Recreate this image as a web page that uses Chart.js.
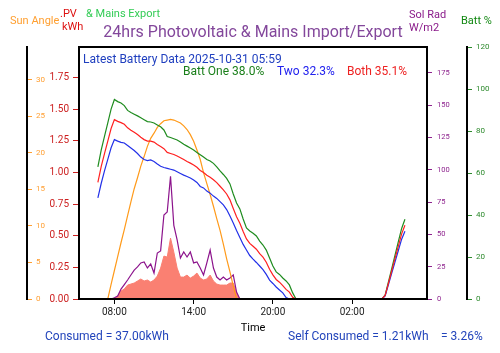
<!DOCTYPE html>
<html>
<head>
<meta charset="utf-8">
<script src="https://cdn.jsdelivr.net/npm/chart.js@4.4.1/dist/chart.umd.min.js"></script>
<style>
  body { margin: 0; background: #fff; }
  canvas { display: block; }
</style>
</head>
<body>
<canvas id="solarChart" width="500" height="353"></canvas>
<script>
// time grid: 15 min steps from 06:30 to 06:30 next day (hours since midnight)
const startHour = 6.5;
const stepMinutes = 15;
const pointCount = 97;
const hours = Array.from({ length: pointCount }, (_, i) => startHour + i * stepMinutes / 60);

const tickHours = [8, 14, 20, 26];
const tickLabels = ['08:00', '14:00', '20:00', '02:00'];

const sunAngle = [
  null, null, null, null, 0, 2.0, 3.9, 5.8, 7.7, 9.5, 11.4, 13.3,
  15.1, 16.6, 18.2, 19.5, 20.9, 22.0, 22.7, 23.5, 24.0, 24.4, 24.5, 24.6,
  24.5, 24.3, 24.1, 23.7, 23.2, 22.5, 21.6, 20.4, 19.1, 17.3, 15.8, 14.3,
  12.7, 11.0, 9.4, 7.5, 5.5, 3.7, 1.8, 0, null, null, null, null,
  null, null, null, null, null, null, null, null, null, null, null, null,
  null, null, null, null, null, null, null, null, null, null, null, null,
  null, null, null, null, null, null, null, null, null, null, null, null,
  null, null, null, null, null, null, null, null, null, null, null, null,
  null
];

const pvKwh = [
  0, 0, 0, 0, 0, 0, 0, 0.024, 0.063, 0.079, 0.110, 0.118,
  0.126, 0.142, 0.158, 0.142, 0.150, 0.134, 0.150, 0.181, 0.244, 0.339, 0.331, 0.481,
  0.370, 0.244, 0.173, 0.173, 0.189, 0.165, 0.181, 0.205, 0.165, 0.150, 0.158, 0.189,
  0.142, 0.118, 0.110, 0.110, 0.110, 0.126, 0.126, 0.047, 0, 0, 0, 0,
  0, 0, 0, 0, 0, 0, 0, 0, 0, 0, 0, 0,
  0, 0, 0, 0, 0, 0, 0, 0, 0, 0, 0, 0,
  0, 0, 0, 0, 0, 0, 0, 0, 0, 0, 0, 0,
  0, 0, 0, 0, 0, 0, 0, 0, 0, 0, 0, 0,
  0
];

const mainsExport = [
  0, 0, 0, 0, 0, 0, 0, 0, 0, 0, 0, 0,
  0, 0, 0, 0, 0, 0, 0, 0, 0, 0, 0, 0,
  0, 0, 0, 0, 0, 0, 0, 0, 0, 0, 0, 0,
  0, 0, 0, 0, 0, 0, 0, 0, 0, 0, 0, 0,
  0, 0, 0, 0, 0, 0, 0, 0, 0, 0, 0, 0,
  0, 0, 0, 0, 0, 0, 0, 0, 0, 0, 0, 0,
  0, 0, 0, 0, 0, 0, 0, 0, 0, 0, 0, 0,
  0, 0, 0, 0, 0, 0, 0, 0, 0, 0, 0, 0,
  0
];

const solRad = [
  0, 0, 0, 0, 0, 0, 1, 2.3, 7.7, 11.2, 14.7, 18.6,
  22.4, 24.8, 27.9, 28.6, 24.0, 27.1, 20.1, 35.6, 37.2, 65.0, 67.3, 95.0,
  57.0, 45.7, 31.7, 36.4, 32.5, 36.4, 27.9, 28.6, 24.0, 18.6, 27.9, 37.9,
  24.0, 17.0, 14.7, 17.0, 14.7, 16.3, 18.6, 5.4, 0, 0, 0, 0,
  0, 0, 0, 0, 0, 0, 0, 0, 0, 0, 0, 0,
  0, 0, 0, 0, 0, 0, 0, 0, 0, 0, 0, 0,
  0, 0, 0, 0, 0, 0, 0, 0, 0, 0, 0, 0,
  0, 0, 0, 0, 0, 0, 0, 0, 0, 0, 0, 0,
  0
];

const battOne = [
  null, 62.9, 70.9, 77.4, 83.9, 90.4, 95.0, 94.0, 93.3, 92.1, 89.8, 88.8,
  88.0, 87.2, 86.3, 85.4, 84.5, 84.3, 83.8, 82.9, 82.0, 80.5, 77.4, 76.9,
  76.3, 75.7, 74.8, 73.7, 72.8, 71.9, 71.0, 69.8, 68.7, 67.6, 66.4, 65.7,
  64.6, 62.9, 61.0, 59.3, 57.4, 54.8, 50.0, 45.7, 42.9, 38.1, 33.8, 32.4,
  31.3, 30.0, 27.6, 25.7, 23.3, 19.5, 15.7, 12.9, 11.7, 10.0, 8.6, 6.7,
  2.9, 0, 0, 0, 0, 0, 0, 0, 0, 0, 0, 0,
  0, 0, 0, 0, 0, 0, 0, 0, 0, 0, 0, 0,
  0, 0, 0, 0, 1.8, 8.2, 14.5, 20.9, 27.3, 33.6, 38.0, null,
  null
];

const battTwo = [
  null, 48.1, 55.0, 61.0, 66.5, 72.0, 75.9, 75.2, 74.6, 74.3, 73.1, 71.9,
  70.7, 69.3, 67.6, 66.4, 65.9, 66.2, 65.5, 64.3, 63.2, 62.6, 62.2, 61.8,
  61.4, 60.6, 59.8, 59.0, 58.3, 57.6, 56.7, 55.5, 53.6, 52.9, 51.4, 50.4,
  49.0, 47.9, 46.4, 44.8, 42.6, 39.5, 36.2, 32.6, 29.3, 26.0, 23.3, 20.7,
  19.0, 17.4, 15.7, 14.0, 11.7, 9.0, 7.4, 5.7, 4.3, 2.9, 0.7, 0,
  0, 0, 0, 0, 0, 0, 0, 0, 0, 0, 0, 0,
  0, 0, 0, 0, 0, 0, 0, 0, 0, 0, 0, 0,
  0, 0, 0, 0, 1.5, 6.9, 12.3, 17.7, 23.1, 28.5, 32.3, null,
  null
];

const battBoth = [
  null, 55.5, 63.0, 69.2, 75.2, 81.2, 85.4, 84.6, 84.0, 83.2, 81.5, 80.4,
  79.4, 78.3, 77.0, 75.9, 75.2, 75.2, 74.7, 73.6, 72.6, 71.6, 69.8, 69.3,
  68.8, 68.1, 67.3, 66.4, 65.5, 64.7, 63.8, 62.7, 61.2, 60.2, 58.9, 58.0,
  56.8, 55.4, 53.7, 52.0, 50.0, 47.2, 43.1, 39.2, 36.1, 32.1, 28.6, 26.5,
  25.1, 23.7, 21.6, 19.9, 17.5, 14.2, 11.5, 9.3, 8.0, 6.4, 4.6, 3.3,
  0.8, 0, 0, 0, 0, 0, 0, 0, 0, 0, 0, 0,
  0, 0, 0, 0, 0, 0, 0, 0, 0, 0, 0, 0,
  0, 0, 0, 0, 1.7, 7.5, 13.4, 19.3, 25.2, 31.0, 35.1, null,
  null
];

const titleText = '24hrs Photovoltaic & Mains Import/Export';
const latestText = 'Latest Battery Data 2025-10-31 05:59';
const battOneText = 'Batt One 38.0%';
const battTwoText = 'Two 32.3%';
const battBothText = 'Both 35.1%';
const consumedText = 'Consumed = 37.00kWh';
const selfText = 'Self Consumed = 1.21kWh';
const selfPctText = '= 3.26%';

const toPoints = vals => hours.map((h, i) => ({ x: h, y: vals[i] }));

function lineSet(label, vals, color, axis, order) {
  return {
    label,
    data: toPoints(vals),
    yAxisID: axis,
    borderColor: color,
    backgroundColor: color,
    borderWidth: 1.2,
    pointRadius: 0,
    fill: false,
    order
  };
}

const textPlugin = {
  id: 'chartText',
  afterDraw(chart) {
    const { ctx, chartArea: a } = chart;
    ctx.save();
    ctx.strokeStyle = '#000';
    ctx.lineWidth = 2;
    ctx.strokeRect(a.left, a.top, a.right - a.left, a.bottom - a.top);

    ctx.textBaseline = 'middle';
    const put = (text, x, y, color, size, align) => {
      ctx.font = size + 'px Roboto';
      ctx.fillStyle = color;
      ctx.textAlign = align || 'left';
      ctx.fillText(text, x, y);
    };
    put(titleText, 253, 33, '#83479b', 16, 'center');
    put('Sun Angle', 10, 21, '#ff9f30', 11);
    put('.PV', 60, 14, '#dd1111', 11);
    put('kWh', 62, 27, '#dd1111', 11);
    put('& Mains Export', 86, 14, '#33cc55', 11);
    put('Sol Rad', 409, 15, '#8a1a8a', 11);
    put('W/m2', 409, 28, '#8a1a8a', 11);
    put('Batt %', 461, 21, '#118811', 11);

    put(latestText, 83, 60, '#1f3fbf', 12);
    put(battOneText, 183, 72, '#1a7f1a', 12);
    put(battTwoText, 277, 72, '#2222ee', 12);
    put(battBothText, 347, 72, '#ee2222', 12);

    put(consumedText, 45, 337, '#2244bb', 12);
    put(selfText, 288, 337, '#2244bb', 12);
    put(selfPctText, 441, 337, '#2244bb', 12);
    ctx.restore();
  }
};

Chart.defaults.font.family = 'Roboto';

new Chart(document.getElementById('solarChart'), {
  type: 'line',
  data: {
    datasets: [
      lineSet('Batt Both', battBoth, '#ff2020', 'yBatt', 0),
      lineSet('Batt Two', battTwo, '#2230e8', 'yBatt', 1),
      lineSet('Batt One', battOne, '#1f8c1f', 'yBatt', 2),
      lineSet('Sun Angle', sunAngle, '#ff9a1a', 'ySun', 3),
      lineSet('Sol Rad', solRad, '#8c138c', 'yRad', 4),
      {
        label: 'PV kWh',
        data: toPoints(pvKwh),
        yAxisID: 'yPv',
        borderColor: '#fa8072',
        backgroundColor: '#fa8072',
        borderWidth: 1,
        pointRadius: 0,
        fill: 'origin',
        order: 5
      },
      lineSet('Mains Export', mainsExport, '#33cc55', 'yPv', 6)
    ]
  },
  options: {
    responsive: false,
    animation: false,
    layout: { padding: { top: 47, bottom: 18, left: 0, right: 0 } },
    plugins: {
      legend: { display: false },
      tooltip: { enabled: false }
    },
    scales: {
      x: {
        type: 'linear',
        min: 5.32,
        max: 31.67,
        afterBuildTicks: s => { s.ticks = tickHours.map(v => ({ value: v })); },
        ticks: {
          callback: (v, i) => tickLabels[i],
          color: '#222',
          font: { size: 10 },
          padding: 2,
          maxRotation: 0,
          autoSkip: false
        },
        grid: { drawOnChartArea: false, color: '#000', tickLength: 5 },
        border: { color: '#000', width: 2 },
        title: { display: true, text: 'Time', color: '#000', font: { size: 11 }, padding: 0 },
        afterFit: s => { s.height = 36; }
      },
      ySun: {
        position: 'left',
        weight: 2,
        min: 0,
        max: 34.5,
        ticks: { stepSize: 5, includeBounds: false, mirror: true, padding: 9, color: '#ff9f33', font: { size: 8 } },
        grid: { drawOnChartArea: false, color: '#ff9f33', tickLength: -5 },
        border: { color: '#000', width: 2 },
        afterFit: s => { s.width = 27; }
      },
      yPv: {
        position: 'left',
        weight: 1,
        min: 0,
        max: 1.99,
        ticks: {
          stepSize: 0.25,
          includeBounds: false,
          color: '#cc1f1f',
          font: { size: 10 },
          padding: 4,
          callback: v => v.toFixed(2)
        },
        grid: { drawOnChartArea: false, color: '#cc1f1f', tickLength: 6 },
        border: { color: '#000', width: 2 },
        afterFit: s => { s.width = 52; }
      },
      yRad: {
        position: 'right',
        weight: 1,
        min: 0,
        max: 195,
        ticks: { stepSize: 25, includeBounds: false, color: '#8e248e', font: { size: 7.5 }, padding: 5 },
        grid: { drawOnChartArea: false, color: '#8e248e', tickLength: 5 },
        border: { color: '#000', width: 2 },
        afterFit: s => { s.width = 40; }
      },
      yBatt: {
        position: 'right',
        weight: 2,
        min: 0,
        max: 120,
        ticks: { stepSize: 20, color: '#2d8a2d', font: { size: 8 }, padding: 4 },
        grid: { drawOnChartArea: false, color: '#2d8a2d', tickLength: 5 },
        border: { color: '#000', width: 2 },
        afterFit: s => { s.width = 33; }
      }
    }
  },
  plugins: [textPlugin]
});
</script>
</body>
</html>
